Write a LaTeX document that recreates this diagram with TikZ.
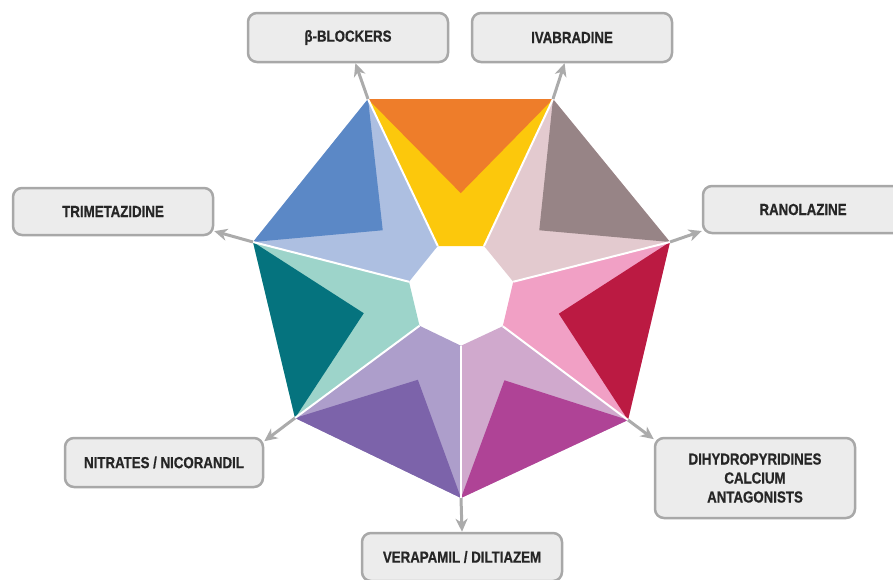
\documentclass[tikz,border=0pt]{standalone}
\usepackage{fontspec}
\newfontfamily\boxfont[FakeStretch=0.83, BoldFeatures={FakeBold=0.7}]{Liberation Sans}
\usepackage{tikz}
\usetikzlibrary{positioning,arrows.meta,calc}
\usepackage{xcolor}
\definecolor{orangedark}{HTML}{EE7D2A}
\definecolor{yellowlight}{HTML}{FCC80C}
\definecolor{mauvedark}{HTML}{978486}
\definecolor{mauvelight}{HTML}{E3CACF}
\definecolor{crimsondark}{HTML}{BB1A42}
\definecolor{pinklight}{HTML}{F1A0C5}
\definecolor{magentadark}{HTML}{AF4396}
\definecolor{lilaclight}{HTML}{D0A9CD}
\definecolor{purpledark}{HTML}{7C63AA}
\definecolor{lavenderlight}{HTML}{AD9ECB}
\definecolor{tealdark}{HTML}{05737E}
\definecolor{mintlight}{HTML}{9DD4CA}
\definecolor{bluedark}{HTML}{5B88C6}
\definecolor{periwinklelight}{HTML}{ADBFE1}
\definecolor{boxfill}{HTML}{ECECEC}
\definecolor{boxedge}{HTML}{A8A8A8}
\definecolor{arrowgrey}{HTML}{ABABAB}
\definecolor{labeltext}{HTML}{262626}

\begin{document}
\begin{tikzpicture}[
    x=1pt, y=-1pt,
    every node/.style={font=\boxfont\bfseries\fontsize{16}{19}\selectfont, text=labeltext},
    drugbox/.style={rectangle, rounded corners=9pt, draw=boxedge, fill=boxfill, line width=2.5pt, minimum width=200pt, minimum height=48pt, inner sep=0pt, align=center},
    arrowline/.style={draw=arrowgrey, line width=3pt, -{Stealth[length=13pt,width=12pt,inset=4pt]}},
    divider/.style={draw=white, line width=2pt}
]
    \useasboundingbox (0,0) rectangle (893,579);

    % Centre and outer corners of the heptagon
    \coordinate (c) at (461,295);
    \coordinate (v1) at (368,99);
    \coordinate (v2) at (553,99);
    \coordinate (v3) at (670,242);
    \coordinate (v4) at (628,420);
    \coordinate (v5) at (461,498);
    \coordinate (v6) at (295,418);
    \coordinate (v7) at (253,242);

    % Corners of the white hole in the middle
    \coordinate (i1) at ($(c)!0.25!(v1)$);
    \coordinate (i2) at ($(c)!0.25!(v2)$);
    \coordinate (i3) at ($(c)!0.25!(v3)$);
    \coordinate (i4) at ($(c)!0.25!(v4)$);
    \coordinate (i5) at ($(c)!0.25!(v5)$);
    \coordinate (i6) at ($(c)!0.25!(v6)$);
    \coordinate (i7) at ($(c)!0.25!(v7)$);

    % Tips of the dark triangles
    \coordinate (a1) at ($(c)!0.52!($(v1)!0.5!(v2)$)$);
    \coordinate (a2) at ($(c)!0.52!($(v2)!0.5!(v3)$)$);
    \coordinate (a3) at ($(c)!0.52!($(v3)!0.5!(v4)$)$);
    \coordinate (a4) at ($(c)!0.52!($(v4)!0.5!(v5)$)$);
    \coordinate (a5) at ($(c)!0.52!($(v5)!0.5!(v6)$)$);
    \coordinate (a6) at ($(c)!0.52!($(v6)!0.5!(v7)$)$);
    \coordinate (a7) at ($(c)!0.52!($(v7)!0.5!(v1)$)$);

    % Top sector: orange / yellow
    \fill[yellowlight] (v1) -- (v2) -- (i2) -- (i1) -- cycle;
    \fill[orangedark] (v1) -- (v2) -- (a1) -- cycle;

    % Upper right sector: mauve
    \fill[mauvelight] (v2) -- (v3) -- (i3) -- (i2) -- cycle;
    \fill[mauvedark] (v2) -- (v3) -- (a2) -- cycle;

    % Right sector: crimson / pink
    \fill[pinklight] (v3) -- (v4) -- (i4) -- (i3) -- cycle;
    \fill[crimsondark] (v3) -- (v4) -- (a3) -- cycle;

    % Lower right sector: magenta / lilac
    \fill[lilaclight] (v4) -- (v5) -- (i5) -- (i4) -- cycle;
    \fill[magentadark] (v4) -- (v5) -- (a4) -- cycle;

    % Lower left sector: purple / lavender
    \fill[lavenderlight] (v5) -- (v6) -- (i6) -- (i5) -- cycle;
    \fill[purpledark] (v5) -- (v6) -- (a5) -- cycle;

    % Left sector: teal / mint
    \fill[mintlight] (v6) -- (v7) -- (i7) -- (i6) -- cycle;
    \fill[tealdark] (v6) -- (v7) -- (a6) -- cycle;

    % Upper left sector: blue / periwinkle
    \fill[periwinklelight] (v7) -- (v1) -- (i1) -- (i7) -- cycle;
    \fill[bluedark] (v7) -- (v1) -- (a7) -- cycle;

    % White separators between the sectors
    \draw[divider] (i1) -- (v1);
    \draw[divider] (i2) -- (v2);
    \draw[divider] (i3) -- (v3);
    \draw[divider] (i4) -- (v4);
    \draw[divider] (i5) -- (v5);
    \draw[divider] (i6) -- (v6);
    \draw[divider] (i7) -- (v7);

    % Drug class boxes
    \node[drugbox, minimum height=49pt] (blockers) at (348,37.5) {β-BLOCKERS};
    \node[drugbox, minimum height=49pt] (ivabradine) at (572,37.5) {IVABRADINE};
    \node[drugbox, minimum height=47pt] (trimetazidine) at (113,211.5) {TRIMETAZIDINE};
    \node[drugbox, minimum height=47pt] (ranolazine) at (803,209.5) {RANOLAZINE};
    \node[drugbox, minimum width=198pt, minimum height=49pt] (nitrates) at (164,462.5) {NITRATES / NICORANDIL};
    \node[drugbox] (verapamil) at (462,557) {VERAPAMIL / DILTIAZEM};
    \node[drugbox, minimum height=80pt] (dhp) at (755,478) {DIHYDROPYRIDINES\\CALCIUM\\ANTAGONISTS};

    % Arrows from the corners to the boxes
    \draw[arrowline] (v1) -- (blockers.-74);
    \draw[arrowline] (v2) -- (ivabradine.-106);
    \draw[arrowline] (v7) -- (trimetazidine.-11);
    \draw[arrowline] (v3) -- (ranolazine.192);
    \draw[arrowline] (v6) -- (nitrates.12);
    \draw[arrowline] (v5) -- (verapamil.north);
    \draw[arrowline] (v4) -- (dhp.159);
\end{tikzpicture}
\end{document}
